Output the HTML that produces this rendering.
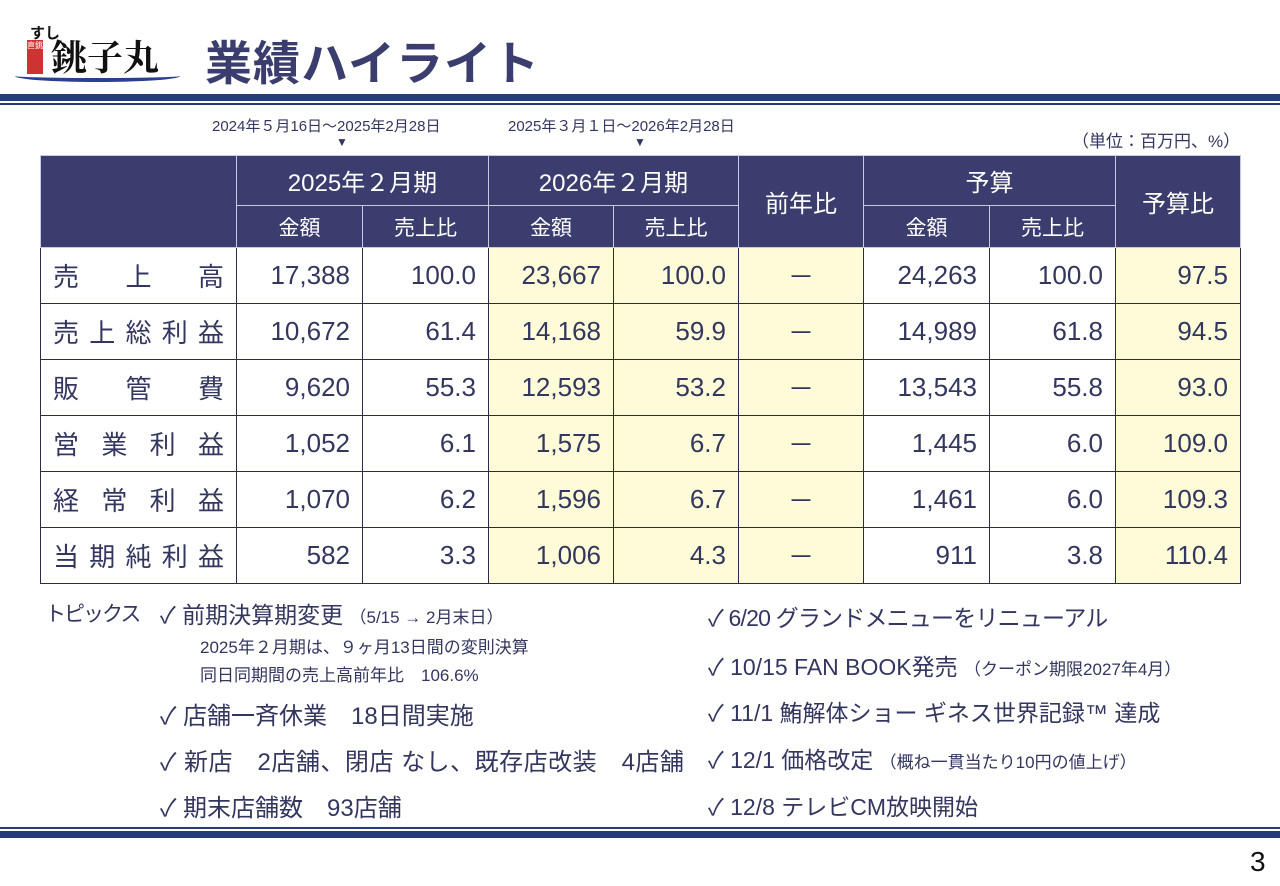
<!DOCTYPE html>
<html><head><meta charset="utf-8"><style>
body{margin:0;width:1280px;height:886px;background:#fff;position:relative;overflow:hidden;font-family:"Liberation Sans","Noto Sans CJK JP",sans-serif;color:#33365f}
.a{position:absolute;white-space:nowrap}
table{position:absolute;left:40px;top:155px;border-collapse:collapse;table-layout:fixed}
td{border:1.5px solid #2a2d45;padding:0;font-size:26px;text-align:right;padding-right:12px;height:56px;box-sizing:border-box;color:#33365f}
tr.d{height:56px}
th{background:#3b3d6e;color:#fff;font-weight:normal;border:1.5px solid #c8cbe0;font-size:24px;padding:0}
th.s{font-size:21px}
.y{background:#fdfbd8}
td.c{text-align:center;padding:0}
td.l{text-align:left;padding:0 12px}
.l span{display:flex;justify-content:space-between}
.l i{font-style:normal}
</style></head><body>
<div class="a" style="left:15px;top:22px;width:170px;height:60px">
<div class="a" style="left:15px;top:0;font-size:15px;font-weight:bold;color:#111">すし</div>
<div class="a" style="left:12px;top:18px;width:16px;height:34px;background:#c33;color:#fff;font-size:8px;line-height:11px;text-align:center">直銚送</div>
<div class="a" style="left:36px;top:8px;font-size:36px;font-weight:bold;color:#111;font-family:'Noto Serif CJK SC',serif">銚子丸</div>
<div class="a" style="left:0;top:48px;width:165px;height:8px;border-radius:50%;border-bottom:4px solid #2a3f8f"></div>
</div>
<div class="a" style="left:205px;top:25px;font-size:47px;font-weight:bold;color:#3b3d6e;letter-spacing:1px">業績ハイライト</div>
<div class="a" style="left:0;top:94px;width:1280px;height:7px;background:#263b7a"></div>
<div class="a" style="left:0;top:103px;width:1280px;height:2px;background:#263b7a"></div>
<div class="a" style="left:212px;top:115px;font-size:15px">2024年５月16日～2025年2月28日</div>
<div class="a" style="left:336px;top:135px;font-size:12px">▼</div>
<div class="a" style="left:508px;top:115px;font-size:15px">2025年３月１日～2026年2月28日</div>
<div class="a" style="left:634px;top:135px;font-size:12px">▼</div>
<div class="a" style="left:1072px;top:127px;font-size:17px">（単位：百万円、%）</div>
<table>
<colgroup><col style="width:196px"><col style="width:126px"><col style="width:126px"><col style="width:125px"><col style="width:125px"><col style="width:125px"><col style="width:126px"><col style="width:126px"><col style="width:125px"></colgroup>
<tr style="height:50px"><th rowspan="2"></th><th colspan="2">2025年２月期</th><th colspan="2">2026年２月期</th><th rowspan="2">前年比</th><th colspan="2">予算</th><th rowspan="2">予算比</th></tr>
<tr style="height:42px"><th class="s">金額</th><th class="s">売上比</th><th class="s">金額</th><th class="s">売上比</th><th class="s">金額</th><th class="s">売上比</th></tr>
<tr class="d"><td class="l"><span><i>売</i><i>上</i><i>高</i></span></td><td>17,388</td><td>100.0</td><td class="y">23,667</td><td class="y">100.0</td><td class="y c">－</td><td>24,263</td><td>100.0</td><td class="y">97.5</td></tr>
<tr class="d"><td class="l"><span><i>売</i><i>上</i><i>総</i><i>利</i><i>益</i></span></td><td>10,672</td><td>61.4</td><td class="y">14,168</td><td class="y">59.9</td><td class="y c">－</td><td>14,989</td><td>61.8</td><td class="y">94.5</td></tr>
<tr class="d"><td class="l"><span><i>販</i><i>管</i><i>費</i></span></td><td>9,620</td><td>55.3</td><td class="y">12,593</td><td class="y">53.2</td><td class="y c">－</td><td>13,543</td><td>55.8</td><td class="y">93.0</td></tr>
<tr class="d"><td class="l"><span><i>営</i><i>業</i><i>利</i><i>益</i></span></td><td>1,052</td><td>6.1</td><td class="y">1,575</td><td class="y">6.7</td><td class="y c">－</td><td>1,445</td><td>6.0</td><td class="y">109.0</td></tr>
<tr class="d"><td class="l"><span><i>経</i><i>常</i><i>利</i><i>益</i></span></td><td>1,070</td><td>6.2</td><td class="y">1,596</td><td class="y">6.7</td><td class="y c">－</td><td>1,461</td><td>6.0</td><td class="y">109.3</td></tr>
<tr class="d"><td class="l"><span><i>当</i><i>期</i><i>純</i><i>利</i><i>益</i></span></td><td>582</td><td>3.3</td><td class="y">1,006</td><td class="y">4.3</td><td class="y c">－</td><td>911</td><td>3.8</td><td class="y">110.4</td></tr>
</table>
<div class="a" style="left:45px;top:598px;font-size:21px;letter-spacing:-2px">トピックス</div>
<div class="a" style="left:160px;top:596px;font-size:23px">✓ 前期決算期変更 <span style="font-size:17px">（5/15 → 2月末日）</span></div>
<div class="a" style="left:200px;top:633px;font-size:17px">2025年２月期は、９ヶ月13日間の変則決算</div>
<div class="a" style="left:200px;top:661px;font-size:17px">同日同期間の売上高前年比　106.6%</div>
<div class="a" style="left:160px;top:696px;font-size:24px">✓ 店舗一斉休業　18日間実施</div>
<div class="a" style="left:160px;top:742px;font-size:24px;letter-spacing:0.5px">✓ 新店　2店舗、閉店 なし、既存店改装　4店舗</div>
<div class="a" style="left:160px;top:788px;font-size:24px">✓ 期末店舗数　93店舗</div>
<div class="a" style="left:708px;top:599px;font-size:23px;letter-spacing:-0.8px">✓ 6/20 グランドメニューをリニューアル</div>
<div class="a" style="left:708px;top:648px;font-size:23px">✓ 10/15 FAN BOOK発売 <span style="font-size:17px">（クーポン期限2027年4月）</span></div>
<div class="a" style="left:708px;top:694px;font-size:23px">✓ 11/1 鮪解体ショー ギネス世界記録™ 達成</div>
<div class="a" style="left:708px;top:741px;font-size:23px">✓ 12/1 価格改定 <span style="font-size:17px">（概ね一貫当たり10円の値上げ）</span></div>
<div class="a" style="left:708px;top:788px;font-size:23px">✓ 12/8 テレビCM放映開始</div>
<div class="a" style="left:0;top:827px;width:1280px;height:2px;background:#263b7a"></div>
<div class="a" style="left:0;top:831px;width:1280px;height:7px;background:#263b7a"></div>
<div class="a" style="left:1250px;top:846px;font-size:28px;color:#111">3</div>
</body></html>
